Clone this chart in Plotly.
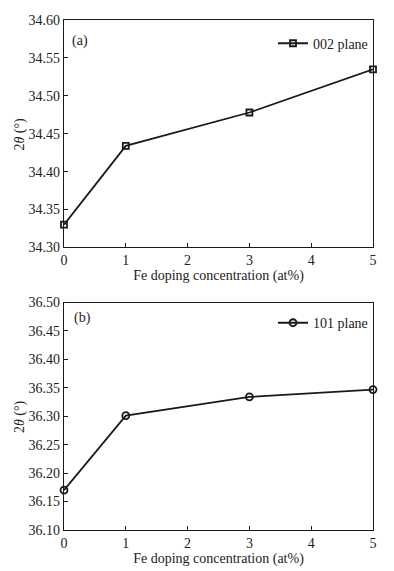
import plotly.graph_objects as go
from plotly.subplots import make_subplots

fe_conc = [0, 1, 3, 5]
plane002 = [34.330, 34.434, 34.478, 34.535]
plane101 = [36.170, 36.301, 36.334, 36.347]
x_ticks = [0, 1, 2, 3, 4, 5]
y_ticks_a = [34.30, 34.35, 34.40, 34.45, 34.50, 34.55, 34.60]
y_ticks_b = [36.10, 36.15, 36.20, 36.25, 36.30, 36.35, 36.40, 36.45, 36.50]

FONT = "Liberation Serif"

# page body has an 8px margin, so the figure is sized to fit the window
fig = make_subplots(rows=2, cols=1, vertical_spacing=0.108)

fig.add_trace(go.Scatter(
    x=fe_conc, y=plane002, mode="lines+markers", name="002 plane",
    line=dict(color="#1a1a1a", width=1.8),
    marker=dict(symbol="square-open", size=6, color="#1a1a1a", line=dict(width=1.8)),
    legend="legend", showlegend=True, cliponaxis=False), row=1, col=1)
fig.add_trace(go.Scatter(
    x=fe_conc, y=plane101, mode="lines+markers", name="101 plane",
    line=dict(color="#1a1a1a", width=1.8),
    marker=dict(symbol="circle-open", size=7, color="#1a1a1a", line=dict(width=1.8)),
    legend="legend2", showlegend=True, cliponaxis=False), row=2, col=1)

axis_common = dict(showline=True, linecolor="#1a1a1a", linewidth=1.4, mirror=True,
                   ticks="inside", ticklen=4, tickcolor="#1a1a1a", showgrid=False,
                   zeroline=False, automargin=False,
                   tickfont=dict(family=FONT, size=14, color="#222"))

fig.update_xaxes(**axis_common, range=[0, 5], tickvals=x_ticks,
                 title=dict(text="Fe doping concentration (at%)", standoff=2,
                            font=dict(family=FONT, size=14, color="#222")))
fig.update_yaxes(**axis_common)
fig.update_yaxes(range=[34.30, 34.60], tickvals=y_ticks_a,
                 ticktext=[f"{v:.2f}" for v in y_ticks_a], row=1, col=1)
fig.update_yaxes(range=[36.10, 36.50], tickvals=y_ticks_b,
                 ticktext=[f"{v:.2f}" for v in y_ticks_b], row=2, col=1)

ytitle = "2<i>θ</i> (°)"
fig.update_layout(
    width=386, height=563, showlegend=True,
    margin=dict(l=56, r=21, t=12, b=41),
    paper_bgcolor="white", plot_bgcolor="white",
    font=dict(family=FONT, size=14, color="#222"),
    legend=dict(x=1.0, y=0.985, xanchor="right", yanchor="top",
                bgcolor="rgba(0,0,0,0)", font=dict(family=FONT, size=14)),
    legend2=dict(x=1.0, y=0.437, xanchor="right", yanchor="top",
                 bgcolor="rgba(0,0,0,0)", font=dict(family=FONT, size=14)),
    annotations=[
        dict(text="(a)", xref="x domain", yref="y domain", x=0.02, y=0.95,
             showarrow=False, xanchor="left", font=dict(family=FONT, size=14)),
        dict(text="(b)", xref="x2 domain", yref="y2 domain", x=0.025, y=0.975,
             showarrow=False, xanchor="left", font=dict(family=FONT, size=14)),
        dict(text=ytitle, xref="paper", yref="y domain", x=-0.143, y=0.5,
             textangle=-90, showarrow=False, xanchor="center", yanchor="middle",
             font=dict(family=FONT, size=14)),
        dict(text=ytitle, xref="paper", yref="y2 domain", x=-0.143, y=0.5,
             textangle=-90, showarrow=False, xanchor="center", yanchor="middle",
             font=dict(family=FONT, size=14)),
    ],
)

fig.write_html("out.html")
